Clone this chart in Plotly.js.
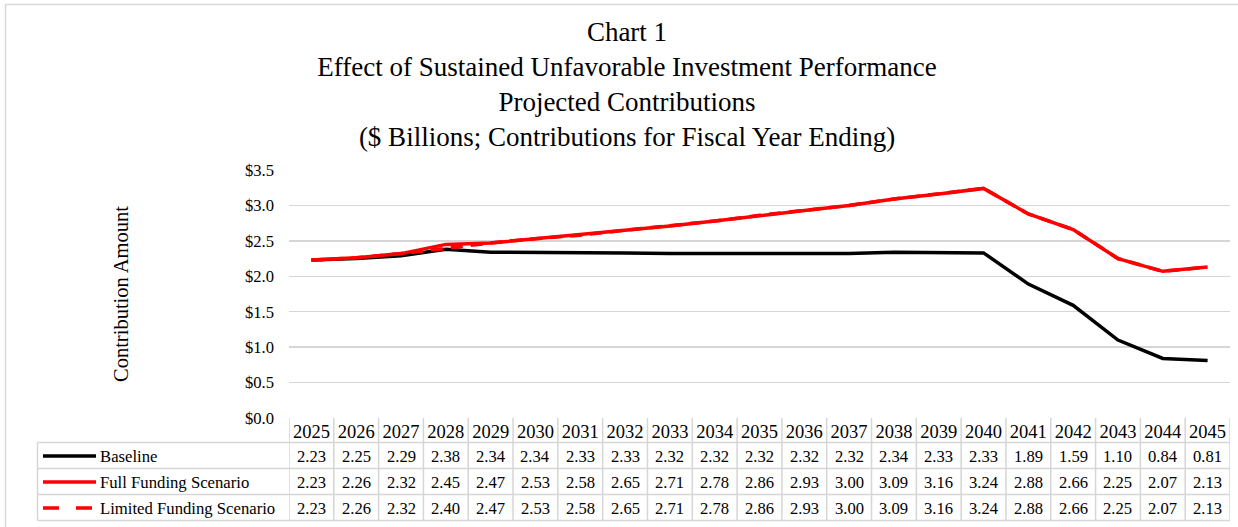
<!DOCTYPE html>
<html><head><meta charset="utf-8">
<script src="https://cdn.plot.ly/plotly-3.0.1.min.js"></script>
<style>body{margin:0;background:#fff}#c{width:1238px;height:527px}</style></head>
<body><div id="c"></div><script>
const years = ['2025','2026','2027','2028','2029','2030','2031','2032','2033','2034','2035','2036','2037','2038','2039','2040','2041','2042','2043','2044','2045'];
const baseline = [2.23,2.25,2.29,2.38,2.34,2.34,2.33,2.33,2.32,2.32,2.32,2.32,2.32,2.34,2.33,2.33,1.89,1.59,1.10,0.84,0.81];
const fullFunding = [2.23,2.26,2.32,2.45,2.47,2.53,2.58,2.65,2.71,2.78,2.86,2.93,3.00,3.09,3.16,3.24,2.88,2.66,2.25,2.07,2.13];
const limitedFunding = [2.23,2.26,2.32,2.40,2.47,2.53,2.58,2.65,2.71,2.78,2.86,2.93,3.00,3.09,3.16,3.24,2.88,2.66,2.25,2.07,2.13];
const seriesNames = ['Baseline','Full Funding Scenario','Limited Funding Scenario'];
const titleLines = ['Chart 1','Effect of Sustained Unfavorable Investment Performance','Projected Contributions','($ Billions; Contributions for Fiscal Year Ending)'];
const yTitle = 'Contribution Amount';

const FONT = 'Liberation Serif, Times New Roman, serif';
const L=289, R=1230, T=170, B=418, W=R-L, H=B-T;
const px2x = p => (p-L)/W;
const py2y = p => (B-p)/H;

const traces = [
  {x: years, y: baseline, name: seriesNames[0], type:'scatter', mode:'lines', line:{color:'#000000', width:3.5}},
  {x: years, y: limitedFunding, name: seriesNames[2], type:'scatter', mode:'lines', line:{color:'#ff0000', width:3.5, dash:'12px,8px'}},
  {x: years, y: fullFunding, name: seriesNames[1], type:'scatter', mode:'lines', line:{color:'#ff0000', width:3.5}}
];

const gridC = '#d6d6d6';
const shapes = [];
const annotations = [];
// outer chart border (right and bottom edges fall outside the picture)
shapes.push({type:'rect', xref:'paper', yref:'paper', x0:px2x(5.5), x1:px2x(1250), y0:py2y(4.5), y1:py2y(540), line:{color:'#d9d9d9', width:1.5}});
// table horizontal lines
const rowLines = [442.5, 468.5, 494.5, 520.5];
rowLines.forEach(py => shapes.push({type:'line', xref:'paper', yref:'paper', x0:px2x(37.5), x1:1, y0:py2y(py), y1:py2y(py), line:{color:gridC, width:1.5}}));
// table vertical lines
for (let k=0; k<=years.length; k++) {
  shapes.push({type:'line', xref:'x', yref:'paper', x0:k-0.5, x1:k-0.5, y0:0, y1:py2y(520.5), line:{color:gridC, width:1.5}});
}
shapes.push({type:'line', xref:'paper', yref:'paper', x0:px2x(37.5), x1:px2x(37.5), y0:py2y(442.5), y1:py2y(520.5), line:{color:gridC, width:1.5}});

const rowCenters = [456, 482, 508];
const rowData = [baseline, fullFunding, limitedFunding];
const keyStyles = [{color:'#000000', dash:'solid'}, {color:'#ff0000', dash:'solid'}, {color:'#ff0000', dash:'16px,17px'}];
rowData.forEach((arr, r) => {
  const yc = py2y(rowCenters[r]);
  shapes.push({type:'line', xref:'paper', yref:'paper', x0:px2x(43), x1:px2x(96), y0:yc, y1:yc, line:{color:keyStyles[r].color, width:3.5, dash:keyStyles[r].dash}});
  annotations.push({xref:'paper', yref:'paper', x:px2x(98), y:yc, xanchor:'left', yanchor:'middle', text:seriesNames[r], showarrow:false, font:{family:FONT, size:16.7, color:'#000'}});
  arr.forEach((v, i) => {
    annotations.push({xref:'x', yref:'paper', x:i, y:yc, xanchor:'center', yanchor:'middle', text:v.toFixed(2), showarrow:false, font:{family:FONT, size:16.6, color:'#000'}});
  });
});

const layout = {
  width:1238, height:527,
  paper_bgcolor:'#fff', plot_bgcolor:'#fff',
  margin:{l:L, r:1238-R, t:T, b:527-B, pad:0},
  showlegend:false,
  font:{family:FONT, color:'#000'},
  title:{text:titleLines.join('<br>'), font:{family:FONT, size:27, color:'#000'}, xref:'container', yref:'container', x:627/1238, xanchor:'center', y:1-41/527, yanchor:'top'},
  xaxis:{type:'category', range:[-0.5, years.length-0.5], showgrid:false, zeroline:false, showline:false, ticks:'', ticklabelstandoff:0, tickfont:{family:FONT, size:18.5, color:'#000'}, fixedrange:true},
  yaxis:{range:[0,3.5], dtick:0.5, tick0:0, tickprefix:'$', tickformat:'.1f', showgrid:true, gridcolor:gridC, gridwidth:1.5, zeroline:false, showline:false, ticks:'', ticklabelstandoff:14, tickfont:{family:FONT, size:16.6, color:'#000'}, title:{text:yTitle, font:{family:FONT, size:20.5, color:'#000'}, standoff:110}},
  shapes, annotations
};
Plotly.newPlot('c', traces, layout, {staticPlot:true});
</script></body></html>
